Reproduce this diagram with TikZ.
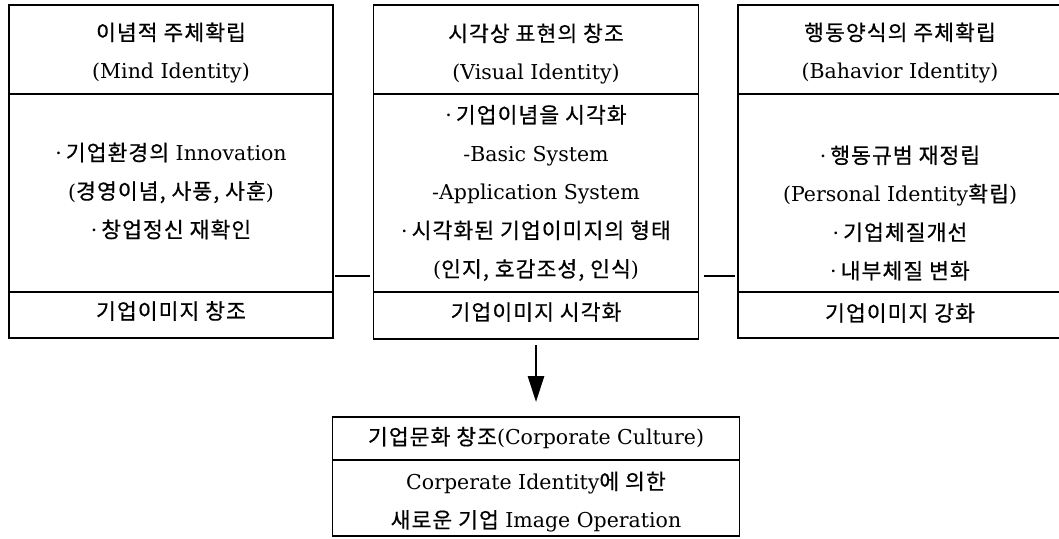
\documentclass[tikz,border=0pt]{standalone}
\usepackage{fontspec}
\setmainfont{DejaVu Serif}
\newfontfamily\kr[Scale=1.05,FakeBold=0.6,LetterSpace=5]{Noto Sans CJK KR}
\usetikzlibrary{arrows.meta}
\begin{document}
\begin{tikzpicture}[x=1pt,y=-1pt,
  box/.style={draw,line width=1.7pt,inner sep=0pt,outer sep=0pt},
  txt/.style={align=center,font=\fontsize{20.5}{38.5}\selectfont,inner sep=0pt},
  conn/.style={line width=2.8pt},
  arr/.style={line width=2.8pt,-{Triangle[width=16pt,length=26pt]}}]
\useasboundingbox (0,0) rectangle (1059,538);

% left box
\node[box,minimum width=324pt,minimum height=89pt]  (Lh) at (171,49.5) {};
\node[box,minimum width=324pt,minimum height=198pt] (Lb) at (171,193) {};
\node[box,minimum width=324pt,minimum height=46pt]  (Lf) at (171,315) {};
% middle box
\node[box,minimum width=325pt,minimum height=89pt]  (Mh) at (536,49.5) {};
\node[box,minimum width=325pt,minimum height=198pt] (Mb) at (536,193) {};
\node[box,minimum width=325pt,minimum height=47pt]  (Mf) at (536,315.5) {};
% right box
\node[box,minimum width=324pt,minimum height=89pt]  (Rh) at (900,49.5) {};
\node[box,minimum width=324pt,minimum height=198pt] (Rb) at (900,193) {};
\node[box,minimum width=324pt,minimum height=46pt]  (Rf) at (900,315) {};
% bottom box
\node[box,minimum width=407pt,minimum height=43pt]  (Bh) at (536,438.5) {};
\node[box,minimum width=407pt,minimum height=76pt]  (Bb) at (536,498) {};

% texts
\node[txt] (Lht) at (171,53) {{\kr 이념적 주체확립}\\(Mind Identity)};
\node[txt] (Lbt) at (171,191) {·\kern4pt{\kr 기업환경의} Innovation\\({\kr 경영이념, 사풍, 사훈})\\·\kern4pt{\kr 창업정신 재확인}};
\node[txt] (Lft) at (171,311) {{\kr 기업이미지 창조}};

\node[txt] (Mht) at (536,54) {{\kr 시각상 표현의 창조}\\(Visual Identity)};
\node[txt] (Mbt) at (536,193) {·\kern4pt{\kr 기업이념을 시각화}\\-Basic System\\-Application System\\·\kern4pt{\kr 시각화된 기업이미지의 형태}\\({\kr 인지, 호감조성, 인식})};
\node[txt] (Mft) at (536,312) {{\kr 기업이미지 시각화}};

\node[txt] (Rht) at (900,53) {{\kr 행동양식의 주체확립}\\(Bahavior Identity)};
\node[txt] (Rbt) at (900,213) {·\kern4pt{\kr 행동규범 재정립}\\(Personal Identity{\kr 확립})\\·\kern4pt{\kr 기업체질개선}\\·\kern4pt{\kr 내부체질 변화}};
\node[txt] (Rft) at (900,313) {{\kr 기업이미지 강화}};

\node[txt] (Bht) at (536,438) {{\kr 기업문화 창조}(Corporate Culture)};
\node[txt] (Bbt) at (536,502) {Corperate Identity{\kr 에 의한}\\{\kr 새로운 기업} Image Operation};

% connectors
\draw[conn,shorten <=2pt,shorten >=4pt] ([yshift=16pt]Lb.south east) -- ([yshift=16pt]Mb.south west);
\draw[conn,shorten <=5pt,shorten >=3pt] ([yshift=16pt]Mb.south east) -- ([yshift=16pt]Rb.south west);
\draw[arr] ([yshift=-6pt]Mf.south) -- ([yshift=15pt]Bh.north);
\end{tikzpicture}
\end{document}
